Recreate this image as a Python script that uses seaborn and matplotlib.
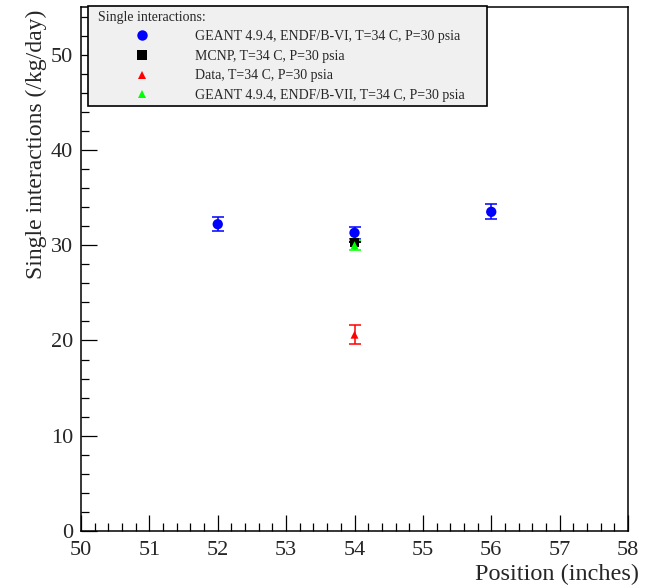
import matplotlib
matplotlib.use("Agg")
import matplotlib.pyplot as plt
from matplotlib.lines import Line2D
from matplotlib.patches import Rectangle
from matplotlib.ticker import MultipleLocator
import seaborn as sns
import pandas as pd

# ---- data ----
series_names = [
    "GEANT 4.9.4, ENDF/B-VI, T=34 C, P=30 psia",
    "MCNP, T=34 C, P=30 psia",
    "Data, T=34 C, P=30 psia",
    "GEANT 4.9.4, ENDF/B-VII, T=34 C, P=30 psia",
]
geant6_pos = [52, 54, 56]
geant6_val = [32.2, 31.3, 33.5]
geant6_err = [0.75, 0.65, 0.8]
mcnp_pos = [54]
mcnp_val = [30.3]
mcnp_err = [0.0]
data_pos = [54]
data_val = [20.6]
data_err = [1.0]
geant7_pos = [54]
geant7_val = [30.0]
geant7_err = [0.5]

legend_title = "Single interactions:"
x_label = "Position (inches)"
y_label = "Single interactions (/kg/day)"

sns.set_theme(style="ticks")
plt.rcParams['font.family'] = ['Liberation Serif', 'DejaVu Serif']
plt.rcParams['mathtext.fontset'] = 'stix'

rows = []
for name, pos, val, err in zip(series_names,
                               [geant6_pos, mcnp_pos, data_pos, geant7_pos],
                               [geant6_val, mcnp_val, data_val, geant7_val],
                               [geant6_err, mcnp_err, data_err, geant7_err]):
    for p, v, e in zip(pos, val, err):
        rows.append({"series": name, "pos": p, "val": v, "err": e})
df = pd.DataFrame(rows)

colors = {series_names[0]: "#0000ff", series_names[1]: "#000000",
          series_names[2]: "#ff0000", series_names[3]: "#00ff00"}
markers = {series_names[0]: "o", series_names[1]: "s",
           series_names[2]: "^", series_names[3]: "^"}
sizes = {series_names[0]: 55, series_names[1]: 42,
         series_names[2]: 32, series_names[3]: 32}

W, H = 645, 586
L, R, B, T = 81, 628, 531, 7
fig = plt.figure(figsize=(W/100, H/100), dpi=100)
ax = fig.add_axes([L/W, 1-B/H, (R-L)/W, (B-T)/H])

def ax_x(px):
    return (px - L) / (R - L)

def ax_y(py):
    return (B - py) / (B - T)

for name in series_names:
    sub = df[df["series"] == name]
    ax.errorbar(sub["pos"], sub["val"], yerr=sub["err"], fmt="none",
                ecolor=colors[name], elinewidth=1.1, capsize=4.5,
                capthick=1.1, zorder=2)
    sns.scatterplot(data=sub, x="pos", y="val", ax=ax, marker=markers[name],
                    color=colors[name], s=sizes[name], edgecolor="none",
                    linewidth=0, zorder=3, legend=False)

ax.set_xlim(50, 58)
ax.set_ylim(0, 55)
ax.xaxis.set_major_locator(MultipleLocator(1))
ax.xaxis.set_minor_locator(MultipleLocator(0.2))
ax.yaxis.set_major_locator(MultipleLocator(10))
ax.yaxis.set_minor_locator(MultipleLocator(2))
ax.tick_params(axis="both", which="major", direction="in", length=11.5,
               width=0.9, labelsize=16, color="black")
ax.tick_params(axis="both", which="minor", direction="in", length=5.8,
               width=0.9, color="black")
ax.tick_params(axis="x", which="major", pad=7)
ax.tick_params(axis="y", which="major", pad=5.5)
for s in ax.spines.values():
    s.set_color("black")
    s.set_linewidth(1.1)

ax.set_xlabel(x_label, fontsize=17.5, ha="right")
ax.xaxis.set_label_coords(ax_x(639), ax_y(564))
ax.set_ylabel(y_label, fontsize=17, ha="right")
ax.yaxis.set_label_coords(ax_x(47), ax_y(10))

# legend frame (ROOT style box)
frame = Rectangle((ax_x(88), ax_y(106)), ax_x(487) - ax_x(88), ax_y(6) - ax_y(106),
                  transform=ax.transAxes, facecolor="#f0f0f0", edgecolor="black",
                  linewidth=1.2, zorder=4, clip_on=False)
ax.add_patch(frame)

handles = [
    Line2D([], [], linestyle="none", marker="o", color="#0000ff", markersize=7.5, markeredgewidth=0),
    Line2D([], [], linestyle="none", marker="s", color="#000000", markersize=6.5, markeredgewidth=0),
    Line2D([], [], linestyle="none", marker="^", color="#ff0000", markersize=6, markeredgewidth=0),
    Line2D([], [], linestyle="none", marker="^", color="#00ff00", markersize=6, markeredgewidth=0),
]
leg = ax.legend(handles, series_names, title=legend_title, loc="upper left",
                bbox_to_anchor=(ax_x(98), ax_y(10.5)),
                fontsize=10, title_fontsize=10, alignment="left",
                frameon=False, borderpad=0, labelspacing=0.48,
                handlelength=6.33, handletextpad=0.65, borderaxespad=0)
leg.set_zorder(5)

fig.savefig("out.png", dpi=100)
